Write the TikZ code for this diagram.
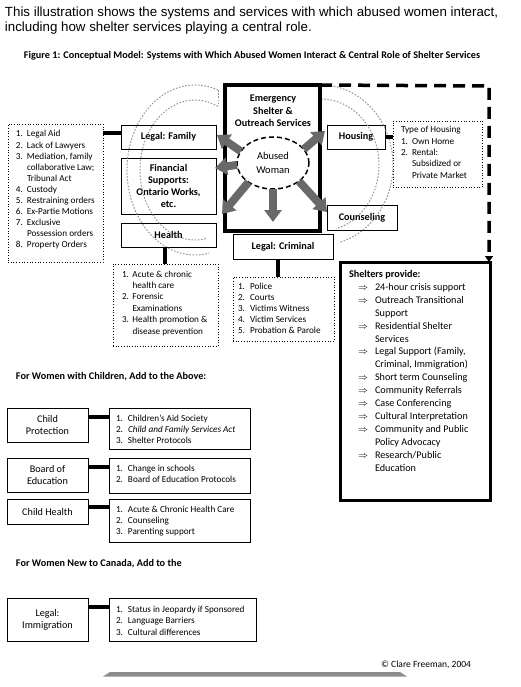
\documentclass[tikz,border=0pt]{standalone}
\usepackage{fontspec}
\setmainfont{Carlito}
\newfontfamily\arialfont{Liberation Sans}
\usetikzlibrary{arrows.meta,shapes.geometric}
\definecolor{arrowgray}{RGB}{105,105,105}
\definecolor{ringgray}{RGB}{150,150,150}
\definecolor{bargray}{RGB}{140,140,140}
\newcommand{\numlist}[2]{\begin{tabular}[t]{@{}p{#1}@{}l@{}}#2\end{tabular}}
\begin{document}
\begin{tikzpicture}[x=1pt,y=-1pt,
  every node/.style={outer sep=0pt},
  tbox/.style={draw=black, line width=0.8pt, fill=white, inner sep=0pt, anchor=north west, align=center, font=\fontsize{10.2}{12}\selectfont\bfseries},
  lbox/.style={draw=black, line width=0.8pt, fill=white, inner sep=0pt, anchor=north west, align=center, font=\fontsize{10.2}{12}\selectfont},
  dbox/.style={draw=black, line width=0.7pt, dotted, fill=white, inner sep=0pt, anchor=north west},
  sbox/.style={draw=black, line width=0.8pt, fill=white, inner sep=0pt, anchor=north west},
  lsttext/.style={anchor=base west, inner sep=0pt, font=\fontsize{9.2}{11.1}\selectfont},
  conn/.style={line width=4pt, black},
  garrow/.style={line width=8pt, draw=arrowgray, -{Triangle[length=12pt,width=17pt]}},
  ring/.style={ringgray, line width=1pt, dash pattern=on 1.6pt off 1.6pt},
  dashline/.style={line width=3.5pt, dash pattern=on 12pt off 7pt, -{Triangle[length=6pt,width=8pt]}},
  heading/.style={anchor=west, inner sep=0pt, font=\fontsize{10.2}{12}\selectfont\bfseries}
]
\useasboundingbox (0,0) rectangle (520,687);
\fill[white] (0,0) rectangle (520,687);

% top text
\node[anchor=base west, inner sep=0pt, font=\arialfont\fontsize{13.3}{15}\selectfont] (intro1) at (5,16.7) {This illustration shows the systems and services with which abused women interact,};
\node[anchor=base west, inner sep=0pt, font=\arialfont\fontsize{13.3}{15}\selectfont] (intro2) at (5,31.7) {including how shelter services playing a central role.};
\node[inner sep=0pt, font=\fontsize{10.2}{12}\selectfont\bfseries] (figtitle) at (252,56) {Figure 1: Conceptual Model: Systems with Which Abused Women Interact \& Central Role of Shelter Services};

% satellite boxes
\node[tbox, minimum width=95pt, minimum height=24pt] (lfam) at (121,125) {Legal: Family};
\node[tbox, minimum width=95pt, minimum height=56pt] (fin) at (121,158) {Financial\\Supports:\\Ontario Works,\\etc.};
\node[tbox, minimum width=95pt, minimum height=24pt] (health) at (121,223) {Health};
\node[tbox, minimum width=100pt, minimum height=25pt] (lcrim) at (233,234) {Legal: Criminal};
\node[tbox, minimum width=58pt, minimum height=24pt] (housing) at (327,125) {Housing};
\node[tbox, minimum width=70pt, minimum height=25pt] (couns) at (327,205) {Counseling};

% decorative rings (over the satellite boxes, under the central box)
\draw[ring] (195,170) ++(70.2:68pt and 85pt) arc[start angle=70.2,end angle=282,x radius=68pt,y radius=85pt];
\draw[ring] (195,170) ++(65.3:55pt and 70pt) arc[start angle=65.3,end angle=282,x radius=55pt,y radius=70pt];
\draw[ring] (218,90) -- (218,106);
\draw[ring] (321,165) ++(90:72pt and 80pt) arc[start angle=90,end angle=-75,x radius=72pt,y radius=80pt];
\draw[ring] (321,165) ++(90:58pt and 66pt) arc[start angle=90,end angle=-75,x radius=58pt,y radius=66pt];
\draw[ring] (321,85) -- (321,99);

% central box
\node[draw=black, line width=3.5pt, fill=white, inner sep=0pt, anchor=north west, minimum width=95pt, minimum height=146pt] (es) at (225,85) {};
\node[inner sep=0pt, align=center, font=\fontsize{10.2}{12.5}\selectfont\bfseries] (estitle) at (273,111) {Emergency\\Shelter \&\\Outreach Services};
\node[draw=black, line width=1.5pt, dash pattern=on 5pt off 3pt, ellipse, minimum width=72pt, minimum height=52pt, inner sep=0pt, align=center, font=\fontsize{10.5}{14}\selectfont] (aw) at (273,163) {Abused\\Woman};

% gray arrows
\coordinate (tip1) at (217,135);
\coordinate (tip2) at (215,168);
\coordinate (tip3) at (222,214);
\coordinate (tip4) at (273,222);
\coordinate (tip5) at (327,212);
\coordinate (tip6) at (325,131);
\draw[garrow] (aw.160) -- (tip1);
\draw[garrow] (aw.183) -- (tip2);
\draw[garrow] (aw.218) -- (tip3);
\draw[garrow] (aw.270) -- (tip4);
\draw[garrow] (aw.325) -- (tip5);
\draw[garrow] (aw.24) -- (tip6);

% lists
\node[dbox, minimum width=95pt, minimum height=138pt] (lfamlist) at (8,124) {};
\node[lsttext] (lfamtxt) at (16,137) {\numlist{11pt}{1.&Legal Aid\\2.&Lack of Lawyers\\3.&Mediation, family\\&collaborative Law;\\&Tribunal Act\\4.&Custody\\5.&Restraining orders\\6.&Ex-Partie Motions\\7.&Exclusive\\&Possession orders\\8.&Property Orders}};

\node[dbox, minimum width=105pt, minimum height=82pt] (hlist) at (113,264) {};
\node[lsttext, font=\fontsize{9.2}{11.4}\selectfont] (htxt) at (122,277) {\numlist{10.5pt}{1.&Acute \& chronic\\&health care\\2.&Forensic\\&Examinations\\3.&Health promotion \&\\&disease prevention}};

\node[dbox, minimum width=101pt, minimum height=64pt] (clist) at (233,277) {};
\node[lsttext, font=\fontsize{9.2}{11.2}\selectfont] (ctxt) at (238,289) {\numlist{12pt}{1.&Police\\2.&Courts\\3.&Victims Witness\\4.&Victim Services\\5.&Probation \& Parole}};

\node[dbox, minimum width=89pt, minimum height=66pt] (hslist) at (393,121) {};
\node[lsttext, font=\fontsize{9.2}{11.3}\selectfont] (hstxt) at (401,133) {\numlist{11pt}{\multicolumn{2}{@{}l@{}}{Type of Housing}\\1.&Own Home\\2.&Rental:\\&Subsidized or\\&Private Market}};

\node[draw=black, line width=3pt, fill=white, inner sep=0pt, anchor=north west, minimum width=150pt, minimum height=238pt] (slist) at (340,262) {};
\node[anchor=base west, inner sep=0pt, font=\fontsize{10.2}{12.9}\selectfont] (stxt) at (349,277.5) {\begin{tabular}[t]{@{\hspace{9pt}}p{17pt}@{}l@{}}
\multicolumn{2}{@{}l@{}}{\textbf{Shelters provide:}}\\
$\Rightarrow$&24-hour crisis support\\
$\Rightarrow$&Outreach Transitional\\&Support\\
$\Rightarrow$&Residential Shelter\\&Services\\
$\Rightarrow$&Legal Support (Family,\\&Criminal, Immigration)\\
$\Rightarrow$&Short term Counseling\\
$\Rightarrow$&Community Referrals\\
$\Rightarrow$&Case Conferencing\\
$\Rightarrow$&Cultural Interpretation\\
$\Rightarrow$&Community and Public\\&Policy Advocacy\\
$\Rightarrow$&Research/Public\\&Education
\end{tabular}};

% connectors upper part
\draw[conn] (lfamlist.east |- 0,133) -- (lfam.west |- 0,133);
\draw[conn] (health.south -| 165,0) -- (hlist.north -| 165,0);
\draw[conn] (lcrim.south -| 278,0) -- (clist.north -| 278,0);
\draw[conn] (housing.east) -- (hslist.west |- housing.east);
\coordinate (dcorner) at (489,86);
\draw[dashline] (es.north east) -- (dcorner) -- (dcorner |- slist.north);

% lower sections
\node[heading] (kidshead) at (16,377) {For Women with Children, Add to the Above:};
\node[lbox, minimum width=81pt, minimum height=34pt] (cp) at (7,408) {Child\\Protection};
\node[sbox, minimum width=141pt, minimum height=41pt] (cplist) at (109,408) {};
\node[lsttext, font=\fontsize{9.2}{11}\selectfont] (cptxt) at (116,421) {\numlist{12pt}{1.&Children's Aid Society\\2.&\textit{Child and Family Services Act}\\3.&Shelter Protocols}};

\node[lbox, minimum width=81pt, minimum height=34pt] (bed) at (7,458) {Board of\\Education};
\node[sbox, minimum width=141pt, minimum height=35pt] (bedlist) at (109,458) {};
\node[lsttext, font=\fontsize{9.2}{11.5}\selectfont] (bedtxt) at (116,471) {\numlist{12pt}{1.&Change in schools\\2.&Board of Education Protocols}};

\node[lbox, minimum width=81pt, minimum height=25pt] (ch) at (7,499) {Child Health};
\node[sbox, minimum width=141pt, minimum height=43pt] (chlist) at (109,499) {};
\node[lsttext, font=\fontsize{9.2}{11.3}\selectfont] (chtxt) at (116,512) {\numlist{12pt}{1.&Acute \& Chronic Health Care\\2.&Counseling\\3.&Parenting support}};

\node[heading] (newhead) at (16,564) {For Women New to Canada, Add to the};
\node[lbox, minimum width=81pt, minimum height=43pt] (im) at (7,598) {Legal:\\Immigration};
\node[sbox, minimum width=147pt, minimum height=43pt] (imlist) at (109,598) {};
\node[lsttext, font=\fontsize{9.2}{11.5}\selectfont] (imtxt) at (116,612) {\numlist{12pt}{1.&Status in Jeopardy if Sponsored\\2.&Language Barriers\\3.&Cultural differences}};

\draw[conn] (cp.east |- 0,417) -- (cplist.west |- 0,417);
\draw[conn] (bed.east |- 0,467) -- (bedlist.west |- 0,467);
\draw[conn] (ch.east |- 0,507) -- (chlist.west |- 0,507);
\draw[conn] (im.east |- 0,607) -- (imlist.west |- 0,607);

% footer
\node[anchor=east, inner sep=0pt, font=\fontsize{9.5}{11}\selectfont] (copy) at (471,665) {© Clare Freeman, 2004};
\fill[bargray] (103,676.5) -- (110,672) -- (400,672) -- (407,676.5) -- cycle;
\end{tikzpicture}
\end{document}
